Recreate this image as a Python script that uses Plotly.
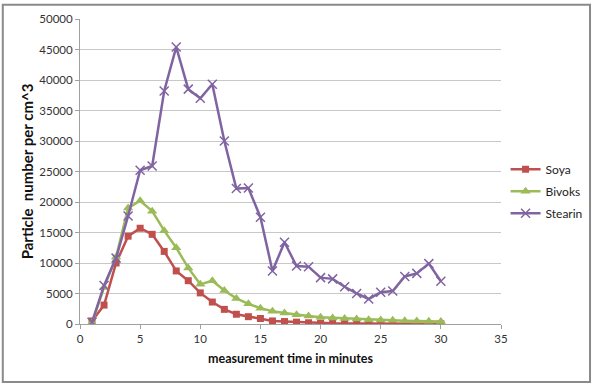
import plotly.graph_objects as go

minutes = list(range(1, 31))
soya = [500, 3100, 10000, 14400, 15700, 14700, 11900, 8700, 7100, 5100,
        3600, 2400, 1600, 1200, 900, 500, 400, 300, 200, 150,
        120, 100, 90, 80, 70, 60, 60, 50, 50, 50]
bivoks = [200, 6000, 11000, 19000, 20200, 18500, 15300, 12500, 9200, 6500,
          7100, 5500, 4200, 3300, 2600, 2100, 1800, 1500, 1300, 1100,
          1000, 900, 800, 700, 650, 600, 550, 500, 450, 400]
stearin = [300, 6300, 10800, 17700, 25200, 25900, 38200, 45400, 38500, 37000,
           39300, 30000, 22200, 22300, 17500, 8700, 13400, 9500, 9400, 7600,
           7400, 6100, 5000, 4100, 5200, 5400, 7800, 8300, 9900, 7000]

font = "Lato, Open Sans, Liberation Sans, sans-serif"
fig = go.Figure()
fig.add_trace(go.Scatter(x=minutes, y=soya, name="Soya", mode="lines+markers",
                         legendgroup="a",
                         line=dict(color="#C0504D", width=2.5),
                         marker=dict(symbol="square", size=7, color="#C0504D")))
fig.add_trace(go.Scatter(x=minutes, y=bivoks, name="Bivoks", mode="lines+markers",
                         legendgroup="b",
                         line=dict(color="#9BBB59", width=2.5),
                         marker=dict(symbol="triangle-up", size=9, color="#9BBB59")))
fig.add_trace(go.Scatter(x=minutes, y=stearin, name="Stearin", mode="lines+markers",
                         legendgroup="c",
                         line=dict(color="#8064A2", width=2.5),
                         marker=dict(symbol="x-thin-open", size=9,
                                     line=dict(color="#8064A2", width=1.5))))

fig.update_layout(
    width=600, height=384, autosize=False,
    margin=dict(l=80, r=92, t=16, b=60),
    paper_bgcolor="white", plot_bgcolor="white",
    font=dict(family=font, size=11.5, color="#333333"),
    showlegend=True,
    legend=dict(x=(596 - 80) / 428, y=(324 - 153) / 308,
                xanchor="right", yanchor="top", itemwidth=30,
                font=dict(size=12, color="#222222"), tracegroupgap=3,
                bgcolor="rgba(0,0,0,0)"),
    xaxis=dict(range=[0, 35], tickvals=[0, 5, 10, 15, 20, 25, 30, 35],
               showgrid=False, zeroline=False, showline=True,
               linecolor="#a0a0a0", linewidth=1, ticks="outside",
               tickcolor="#a0a0a0", ticklen=4,
               title=dict(text="<b>measurement time in minutes</b>",
                          font=dict(size=12.5, color="#111111"), standoff=10)),
    yaxis=dict(range=[0, 50000], tickvals=list(range(0, 50001, 5000)),
               tickformat="d",
               showgrid=True, gridcolor="#c8c8c8", gridwidth=1,
               zeroline=False, showline=True, linecolor="#a0a0a0",
               ticks="outside", tickcolor="#a0a0a0", ticklen=4,
               title=dict(text="<b>Particle  number per cm^3</b>",
                          font=dict(size=15, color="#111111"), standoff=2)),
    shapes=[dict(type="rect", xref="paper", yref="paper",
                 x0=(1.5 - 80) / 428, x1=(598.5 - 80) / 428,
                 y0=(324 - 382.5) / 308, y1=(324 - 1.5) / 308,
                 line=dict(color="#8a8a8a", width=2))],
)

fig.write_html("out.html",
               config={"responsive": False, "displayModeBar": False},
               post_script="document.body.style.margin='0';document.body.style.overflow='hidden';")
